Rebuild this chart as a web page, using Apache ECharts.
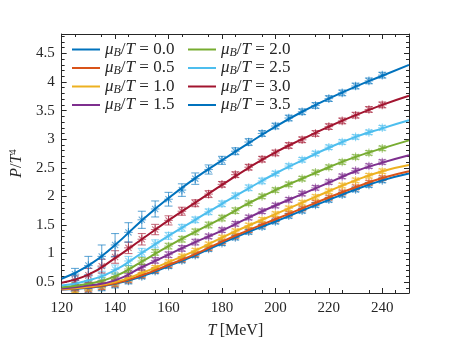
<!DOCTYPE html>
<html>
<head>
<meta charset="utf-8">
<script src="https://cdn.jsdelivr.net/npm/echarts@6/dist/echarts.min.js"></script>
<style>
  html, body { margin: 0; padding: 0; background: #fff; }
  #chart { width: 449px; height: 345px; }
</style>
</head>
<body>
<div id="chart"></div>
<script>
// temperatures of the lattice points and of the fitted curves
var ptT  = [125, 130, 135, 140, 145, 150, 155, 160, 165, 170, 175, 180, 185, 190, 195, 200, 205, 210, 215, 220, 225, 230, 235, 240];
var fitT = [120, 130, 140, 150, 160, 170, 180, 190, 200, 210, 220, 230, 240, 250];

var xTicks = [120, 140, 160, 180, 200, 220, 240];
var yTicks = [0.5, 1, 1.5, 2, 2.5, 3, 3.5, 4, 4.5];

// mu_B/T = 0.0
var fit00 = [0.37, 0.40, 0.47, 0.60, 0.78, 0.97, 1.18, 1.38, 1.56, 1.75, 1.94, 2.12, 2.28, 2.40];
var pts00 = [0.34, 0.36, 0.40, 0.45, 0.52, 0.60, 0.69, 0.78, 0.88, 0.97, 1.08, 1.18, 1.28, 1.38, 1.47, 1.56, 1.66, 1.75, 1.85, 1.94, 2.03, 2.12, 2.20, 2.28];
var err00 = [0.05, 0.05, 0.05, 0.05, 0.05, 0.04, 0.04, 0.04, 0.04, 0.04, 0.04, 0.04, 0.04, 0.04, 0.04, 0.04, 0.04, 0.04, 0.04, 0.04, 0.04, 0.04, 0.04, 0.04];
// mu_B/T = 0.5
var fit05 = [0.37, 0.41, 0.48, 0.62, 0.80, 0.99, 1.21, 1.41, 1.60, 1.79, 1.98, 2.16, 2.32, 2.44];
var pts05 = [0.35, 0.38, 0.42, 0.47, 0.54, 0.62, 0.71, 0.80, 0.90, 0.99, 1.10, 1.21, 1.31, 1.41, 1.51, 1.60, 1.70, 1.79, 1.89, 1.98, 2.07, 2.16, 2.24, 2.32];
var err05 = [0.05, 0.05, 0.05, 0.05, 0.05, 0.04, 0.04, 0.04, 0.04, 0.04, 0.04, 0.04, 0.04, 0.04, 0.04, 0.04, 0.04, 0.04, 0.04, 0.04, 0.04, 0.04, 0.04, 0.04];
// mu_B/T = 1.0
var fit10 = [0.38, 0.42, 0.50, 0.66, 0.85, 1.05, 1.28, 1.49, 1.69, 1.89, 2.09, 2.28, 2.44, 2.55];
var pts10 = [0.37, 0.41, 0.45, 0.50, 0.57, 0.66, 0.75, 0.85, 0.95, 1.05, 1.16, 1.28, 1.39, 1.49, 1.59, 1.69, 1.79, 1.89, 1.99, 2.09, 2.19, 2.28, 2.36, 2.44];
var err10 = [0.05, 0.05, 0.05, 0.05, 0.05, 0.05, 0.04, 0.04, 0.04, 0.04, 0.04, 0.04, 0.04, 0.04, 0.04, 0.04, 0.04, 0.04, 0.04, 0.04, 0.04, 0.04, 0.04, 0.04];
// mu_B/T = 1.5
var fit15 = [0.39, 0.44, 0.53, 0.76, 0.98, 1.20, 1.40, 1.63, 1.84, 2.04, 2.24, 2.44, 2.59, 2.72];
var pts15 = [0.41, 0.44, 0.48, 0.54, 0.65, 0.76, 0.88, 0.98, 1.09, 1.20, 1.30, 1.41, 1.52, 1.63, 1.74, 1.84, 1.94, 2.05, 2.15, 2.25, 2.35, 2.45, 2.53, 2.60];
var err15 = [0.05, 0.05, 0.05, 0.05, 0.05, 0.05, 0.05, 0.05, 0.05, 0.05, 0.04, 0.04, 0.04, 0.04, 0.04, 0.04, 0.04, 0.04, 0.04, 0.04, 0.04, 0.04, 0.04, 0.04];
// mu_B/T = 2.0
var fit20 = [0.41, 0.47, 0.60, 0.86, 1.13, 1.38, 1.62, 1.88, 2.11, 2.31, 2.51, 2.69, 2.84, 2.98];
var pts20 = [0.43, 0.47, 0.52, 0.60, 0.73, 0.87, 1.02, 1.13, 1.25, 1.38, 1.50, 1.62, 1.75, 1.88, 2.00, 2.11, 2.21, 2.31, 2.42, 2.51, 2.60, 2.69, 2.76, 2.84];
var err20 = [0.06, 0.06, 0.06, 0.06, 0.06, 0.06, 0.05, 0.05, 0.05, 0.05, 0.05, 0.05, 0.05, 0.04, 0.04, 0.04, 0.04, 0.04, 0.04, 0.04, 0.04, 0.04, 0.04, 0.04];
// mu_B/T = 2.5
var fit25 = [0.44, 0.53, 0.71, 1.01, 1.31, 1.59, 1.87, 2.14, 2.40, 2.63, 2.85, 3.04, 3.19, 3.33];
var pts25 = [0.47, 0.52, 0.61, 0.72, 0.87, 1.02, 1.17, 1.31, 1.45, 1.59, 1.73, 1.87, 2.01, 2.15, 2.27, 2.40, 2.53, 2.64, 2.75, 2.86, 2.95, 3.04, 3.12, 3.20];
var err25 = [0.07, 0.08, 0.08, 0.08, 0.08, 0.07, 0.07, 0.06, 0.06, 0.05, 0.05, 0.05, 0.05, 0.05, 0.05, 0.04, 0.04, 0.04, 0.04, 0.04, 0.04, 0.04, 0.04, 0.04];
// mu_B/T = 3.0
var fit30 = [0.49, 0.63, 0.92, 1.25, 1.58, 1.89, 2.20, 2.50, 2.77, 3.00, 3.22, 3.42, 3.60, 3.76];
var pts30 = [0.53, 0.62, 0.78, 0.94, 1.10, 1.25, 1.42, 1.58, 1.74, 1.88, 2.04, 2.21, 2.38, 2.51, 2.65, 2.76, 2.89, 2.99, 3.10, 3.22, 3.32, 3.42, 3.52, 3.60];
var err30 = [0.08, 0.12, 0.12, 0.11, 0.10, 0.10, 0.09, 0.08, 0.07, 0.06, 0.06, 0.05, 0.05, 0.05, 0.05, 0.05, 0.05, 0.05, 0.05, 0.05, 0.05, 0.05, 0.05, 0.05];
// mu_B/T = 3.5
var fit35 = [0.56, 0.79, 1.15, 1.58, 1.97, 2.32, 2.63, 2.93, 3.22, 3.48, 3.71, 3.92, 4.11, 4.30];
var pts35 = [0.64, 0.79, 0.95, 1.15, 1.37, 1.59, 1.78, 1.95, 2.11, 2.31, 2.47, 2.63, 2.79, 2.95, 3.10, 3.23, 3.37, 3.48, 3.59, 3.71, 3.81, 3.93, 4.02, 4.12];
var err35 = [0.10, 0.16, 0.20, 0.20, 0.17, 0.15, 0.14, 0.12, 0.11, 0.10, 0.08, 0.07, 0.06, 0.06, 0.05, 0.05, 0.05, 0.05, 0.05, 0.05, 0.05, 0.05, 0.05, 0.05];

var groups = [
  { name: '0.0', color: '#0072BD', fit: fit00, pts: pts00, err: err00 },
  { name: '0.5', color: '#D95319', fit: fit05, pts: pts05, err: err05 },
  { name: '1.0', color: '#EDB120', fit: fit10, pts: pts10, err: err10 },
  { name: '1.5', color: '#7E2F8E', fit: fit15, pts: pts15, err: err15 },
  { name: '2.0', color: '#77AC30', fit: fit20, pts: pts20, err: err20 },
  { name: '2.5', color: '#4DBEEE', fit: fit25, pts: pts25, err: err25 },
  { name: '3.0', color: '#A2142F', fit: fit30, pts: pts30, err: err30 },
  { name: '3.5', color: '#0072BD', fit: fit35, pts: pts35, err: err35 }
];

var FONT = 'Liberation Serif';
var INK = '#262626';

// error bar with caps and an asterisk marker
function errorBar(params, api) {
  var x = api.value(0), y = api.value(1), e = api.value(2);
  var c = api.coord([x, y]);
  var hi = api.coord([x, y + e]);
  var lo = api.coord([x, y - e]);
  var col = api.visual('color');
  var st = { stroke: col, lineWidth: 1.1, opacity: 0.6 };
  var w = 4, r = 4.3, d = r * 0.72;
  var seg = function (x1, y1, x2, y2) {
    return { type: 'line', shape: { x1: x1, y1: y1, x2: x2, y2: y2 }, style: st };
  };
  return {
    type: 'group',
    children: [
      seg(c[0], hi[1], c[0], lo[1]),
      seg(c[0] - w, hi[1], c[0] + w, hi[1]),
      seg(c[0] - w, lo[1], c[0] + w, lo[1]),
      seg(c[0] - r, c[1], c[0] + r, c[1]),
      seg(c[0], c[1] - r, c[0], c[1] + r),
      seg(c[0] - d, c[1] - d, c[0] + d, c[1] + d),
      seg(c[0] - d, c[1] + d, c[0] + d, c[1] - d)
    ]
  };
}

var series = [];
groups.forEach(function (g) {
  series.push({
    name: 'pts ' + g.name,
    type: 'custom',
    renderItem: errorBar,
    clip: true,
    silent: true,
    z: 2,
    itemStyle: { color: g.color },
    encode: { x: 0, y: 1 },
    data: ptT.map(function (t, i) { return [t, g.pts[i], g.err[i]]; })
  });
  series.push({
    name: g.name,
    type: 'line',
    smooth: true,
    symbol: 'none',
    clip: true,
    z: 3,
    itemStyle: { color: g.color },
    lineStyle: { color: g.color, width: 2 },
    data: fitT.map(function (t, i) { return [t, g.fit[i]]; })
  });
});

var minorX = [];
for (var t = 125; t < 250; t += 10) minorX.push(t);
var minorY = [];
for (var k = 4; k <= 48; k++) { if (k % 5 !== 0) minorY.push(k / 10); }

var legendRich = {
  i: { fontFamily: FONT, fontStyle: 'italic', fontSize: 17, lineHeight: 18, color: INK },
  r: { fontFamily: FONT, fontSize: 17, lineHeight: 18, color: INK },
  s: { fontFamily: FONT, fontStyle: 'italic', fontSize: 12, lineHeight: 11, verticalAlign: 'bottom', color: INK }
};
function legendText(name) {
  return '{i|μ}{s|B}{r|/}{i|T}{r| = ' + name + '}';
}
function legendBlock(left, names) {
  return {
    left: left, top: 36, orient: 'vertical',
    itemWidth: 28, itemHeight: 2, itemGap: 1, icon: 'rect',
    data: names, formatter: legendText,
    textStyle: { rich: legendRich }
  };
}

var xBase = { type: 'value', min: 120, max: 250, splitLine: { show: false } };
var yBase = { type: 'value', min: 0.31, max: 4.84, splitLine: { show: false } };
function axis(base, extra) {
  var o = {};
  for (var key in base) o[key] = base[key];
  for (var key2 in extra) o[key2] = extra[key2];
  return o;
}
var lineOn = { show: true, lineStyle: { color: INK, width: 1 } };
var lineOff = { show: false };
var labelOff = { show: false };

var option = {
  animation: false,
  backgroundColor: '#fff',
  grid: { left: 58, right: 40, top: 34, bottom: 52 },
  legend: [
    legendBlock(67, ['0.0', '0.5', '1.0', '1.5']),
    legendBlock(183, ['2.0', '2.5', '3.0', '3.5'])
  ],
  xAxis: [
    axis(xBase, {
      position: 'bottom',
      axisLine: lineOn,
      axisTick: { inside: true, length: 5, customValues: xTicks, lineStyle: { color: INK } },
      axisLabel: { customValues: xTicks, fontFamily: FONT, fontSize: 15, color: INK, margin: 8 },
      name: '{i|T} {r|[MeV]}', nameLocation: 'middle', nameGap: 30,
      nameTextStyle: { rich: {
        i: { fontFamily: FONT, fontStyle: 'italic', fontSize: 16, color: INK },
        r: { fontFamily: FONT, fontSize: 16, color: INK }
      } }
    }),
    axis(xBase, {
      position: 'top', axisLine: lineOn, axisLabel: labelOff,
      axisTick: { inside: true, length: 5, customValues: xTicks, lineStyle: { color: INK } }
    }),
    axis(xBase, {
      position: 'bottom', axisLine: lineOff, axisLabel: labelOff,
      axisTick: { inside: true, length: 3, customValues: minorX, lineStyle: { color: INK } }
    }),
    axis(xBase, {
      position: 'top', axisLine: lineOff, axisLabel: labelOff,
      axisTick: { inside: true, length: 3, customValues: minorX, lineStyle: { color: INK } }
    })
  ],
  yAxis: [
    axis(yBase, {
      position: 'left',
      axisLine: lineOn,
      axisTick: { inside: true, length: 5, customValues: yTicks, lineStyle: { color: INK } },
      axisLabel: { customValues: yTicks, fontFamily: FONT, fontSize: 15, color: INK, margin: 7 },
      name: '{i|P}{r|/}{i|T}{p|4}', nameLocation: 'middle', nameGap: 29,
      nameTextStyle: { rich: {
        i: { fontFamily: FONT, fontStyle: 'italic', fontSize: 16, lineHeight: 18, color: INK },
        r: { fontFamily: FONT, fontSize: 16, lineHeight: 18, color: INK },
        p: { fontFamily: FONT, fontSize: 11, lineHeight: 11, verticalAlign: 'top', color: INK }
      } }
    }),
    axis(yBase, {
      position: 'right', axisLine: lineOn, axisLabel: labelOff,
      axisTick: { inside: true, length: 5, customValues: yTicks, lineStyle: { color: INK } }
    }),
    axis(yBase, {
      position: 'left', axisLine: lineOff, axisLabel: labelOff,
      axisTick: { inside: true, length: 3, customValues: minorY, lineStyle: { color: INK } }
    }),
    axis(yBase, {
      position: 'right', axisLine: lineOff, axisLabel: labelOff,
      axisTick: { inside: true, length: 3, customValues: minorY, lineStyle: { color: INK } }
    })
  ],
  series: series
};

var chart = echarts.init(document.getElementById('chart'), null, { renderer: 'canvas' });
chart.setOption(option);
</script>
</body>
</html>
